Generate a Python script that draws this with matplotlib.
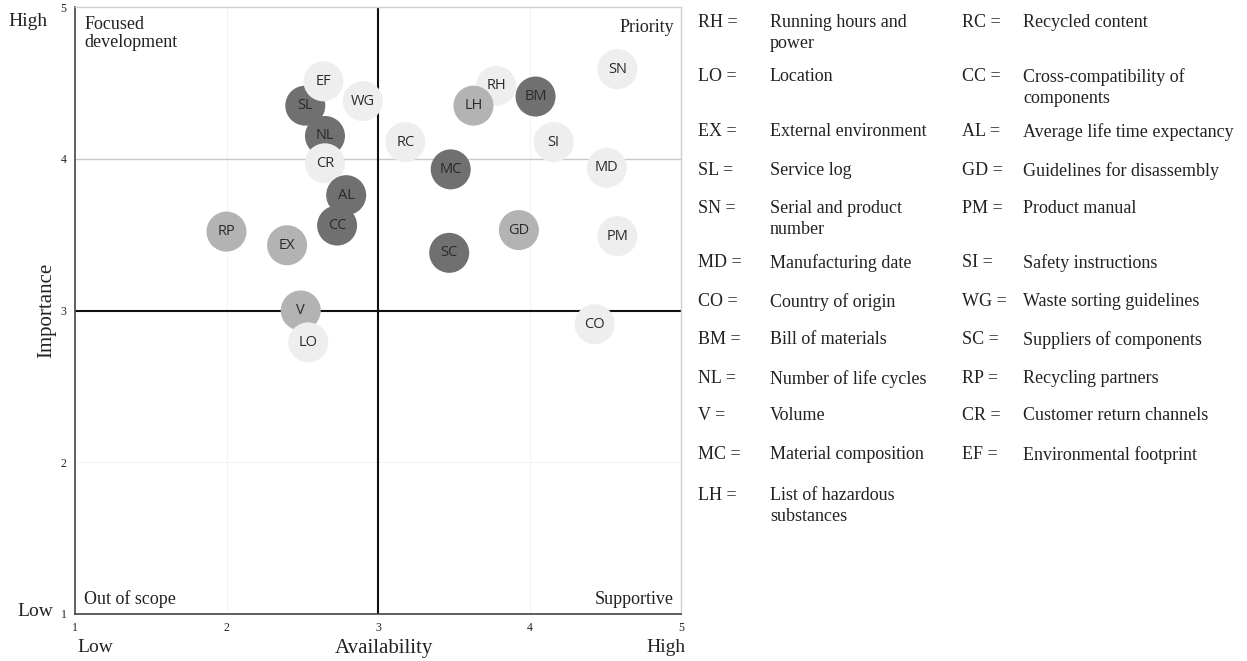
import matplotlib
matplotlib.use("Agg")
import matplotlib.pyplot as plt

# ---- data ----
codes = ["RP", "EX", "SL", "EF", "WG", "NL", "CR", "AL", "CC", "V", "LO",
         "RC", "RH", "LH", "BM", "SN", "SI", "MC", "MD", "GD", "PM", "SC", "CO"]
availability = [2.00, 2.40, 2.52, 2.64, 2.90, 2.65, 2.65, 2.79, 2.73, 2.49, 2.54,
                3.18, 3.78, 3.63, 4.04, 4.58, 4.16, 3.48, 4.51, 3.93, 4.58, 3.47, 4.43]
importance = [3.52, 3.43, 4.35, 4.51, 4.38, 4.15, 3.97, 3.76, 3.56, 3.00, 2.79,
              4.11, 4.48, 4.35, 4.41, 4.59, 4.11, 3.93, 3.94, 3.53, 3.49, 3.38, 2.91]
shade = ["mid", "mid", "dark", "light", "light", "dark", "light", "dark", "dark", "mid", "light",
         "light", "light", "mid", "dark", "light", "light", "dark", "light", "mid", "light", "dark", "light"]

legend_left = [("RH =", "Running hours and\npower"), ("LO =", "Location"),
               ("EX =", "External environment"), ("SL =", "Service log"),
               ("SN =", "Serial and product\nnumber"), ("MD =", "Manufacturing date"),
               ("CO =", "Country of origin"), ("BM =", "Bill of materials"),
               ("NL =", "Number of life cycles"), ("V =", "Volume"),
               ("MC =", "Material composition"), ("LH =", "List of hazardous\nsubstances")]
legend_right = [("RC =", "Recycled content"), ("CC =", "Cross-compatibility of\ncomponents"),
                ("AL =", "Average life time expectancy"), ("GD =", "Guidelines for disassembly"),
                ("PM =", "Product manual"), ("SI =", "Safety instructions"),
                ("WG =", "Waste sorting guidelines"), ("SC =", "Suppliers of components"),
                ("RP =", "Recycling partners"), ("CR =", "Customer return channels"),
                ("EF =", "Environmental footprint")]
legend_rows_y = [24, 78, 133, 172, 210, 264, 303, 341, 380, 417, 456, 497]

colors = {"light": "#eeeeee", "mid": "#b3b3b3", "dark": "#707070"}

W, H = 1247, 661
fig = plt.figure(figsize=(W / 100, H / 100), dpi=100)
serif = ["Liberation Serif", "DejaVu Serif"]
sans = ["Open Sans", "DejaVu Sans"]
tc = "#222222"

x0, x1 = 75, 681
ytop, ybot = 7, 614
ax = fig.add_axes([x0 / W, 1 - ybot / H, (x1 - x0) / W, (ybot - ytop) / H])
ax.set_xlim(1, 5)
ax.set_ylim(1, 5)

# faint grid
for v in [2, 4]:
    ax.axvline(v, color="#f3f3f3", lw=0.8, zorder=0)
ax.axhline(2, color="#f3f3f3", lw=0.8, zorder=0)
ax.axhline(4, color="#c8c8c8", lw=1.0, zorder=0)
ax.axhline(3, color="#111111", lw=1.5, zorder=1)
ax.axvline(3, color="#111111", lw=1.5, zorder=1)

for s in ["top", "right"]:
    ax.spines[s].set_color("#cfcfcf")
    ax.spines[s].set_linewidth(1.0)
for s in ["left", "bottom"]:
    ax.spines[s].set_color("#444444")
    ax.spines[s].set_linewidth(1.2)

ax.set_xticks([1, 2, 3, 4, 5])
ax.set_yticks([1, 2, 3, 4, 5])
ax.tick_params(length=0, labelsize=8.5, colors=tc, pad=6)
for lab in ax.get_xticklabels() + ax.get_yticklabels():
    lab.set_fontfamily(serif)

# bubbles
for i, (c, xa, ya) in enumerate(zip(codes, availability, importance)):
    ax.scatter([xa], [ya], s=830, c=[colors[shade[i]]], edgecolors="none", zorder=3 + i * 0.01)
    ax.text(xa, ya, c, ha="center", va="center", fontsize=10.5, family=sans,
            color="#2a2a2a", zorder=3.005 + i * 0.01)

# quadrant labels
qfs = 13
ax.text(0.015, 0.985, "Focused\ndevelopment", transform=ax.transAxes, ha="left", va="top",
        fontsize=qfs, family=serif, color=tc, linespacing=1.1)
ax.text(0.988, 0.98, "Priority", transform=ax.transAxes, ha="right", va="top",
        fontsize=qfs, family=serif, color=tc)
ax.text(0.015, 0.01, "Out of scope", transform=ax.transAxes, ha="left", va="bottom",
        fontsize=qfs, family=serif, color=tc)
ax.text(0.988, 0.01, "Supportive", transform=ax.transAxes, ha="right", va="bottom",
        fontsize=qfs, family=serif, color=tc)

def px(x, y):
    return x / W, 1 - y / H

# axis labels
fig.text(*px(47, 310), "Importance", rotation=90, ha="center", va="center",
         fontsize=15, family=serif, color=tc)
fig.text(*px(384, 648), "Availability", ha="center", va="center",
         fontsize=15, family=serif, color=tc)
fig.text(*px(77, 648), "Low", ha="left", va="center", fontsize=14, family=serif, color=tc)
fig.text(*px(686, 648), "High", ha="right", va="center", fontsize=14, family=serif, color=tc)
fig.text(*px(48, 21), "High", ha="right", va="center", fontsize=14, family=serif, color=tc)
fig.text(*px(53, 612), "Low", ha="right", va="center", fontsize=14, family=serif, color=tc)

# legend
lfs = 13
ls = 1.3
for (a, d), yy in zip(legend_left, legend_rows_y):
    fig.text(*px(698, yy - 10), a, ha="left", va="top", fontsize=lfs, family=serif,
             color=tc, linespacing=ls)
    fig.text(*px(770, yy - 10), d, ha="left", va="top", fontsize=lfs, family=serif,
             color=tc, linespacing=ls)
for (a, d), yy in zip(legend_right, legend_rows_y):
    fig.text(*px(962, yy - 10), a, ha="left", va="top", fontsize=lfs, family=serif,
             color=tc, linespacing=ls)
    fig.text(*px(1023, yy - 10), d, ha="left", va="top", fontsize=lfs, family=serif,
             color=tc, linespacing=ls)

fig.savefig("out.png", dpi=100, facecolor="white")
